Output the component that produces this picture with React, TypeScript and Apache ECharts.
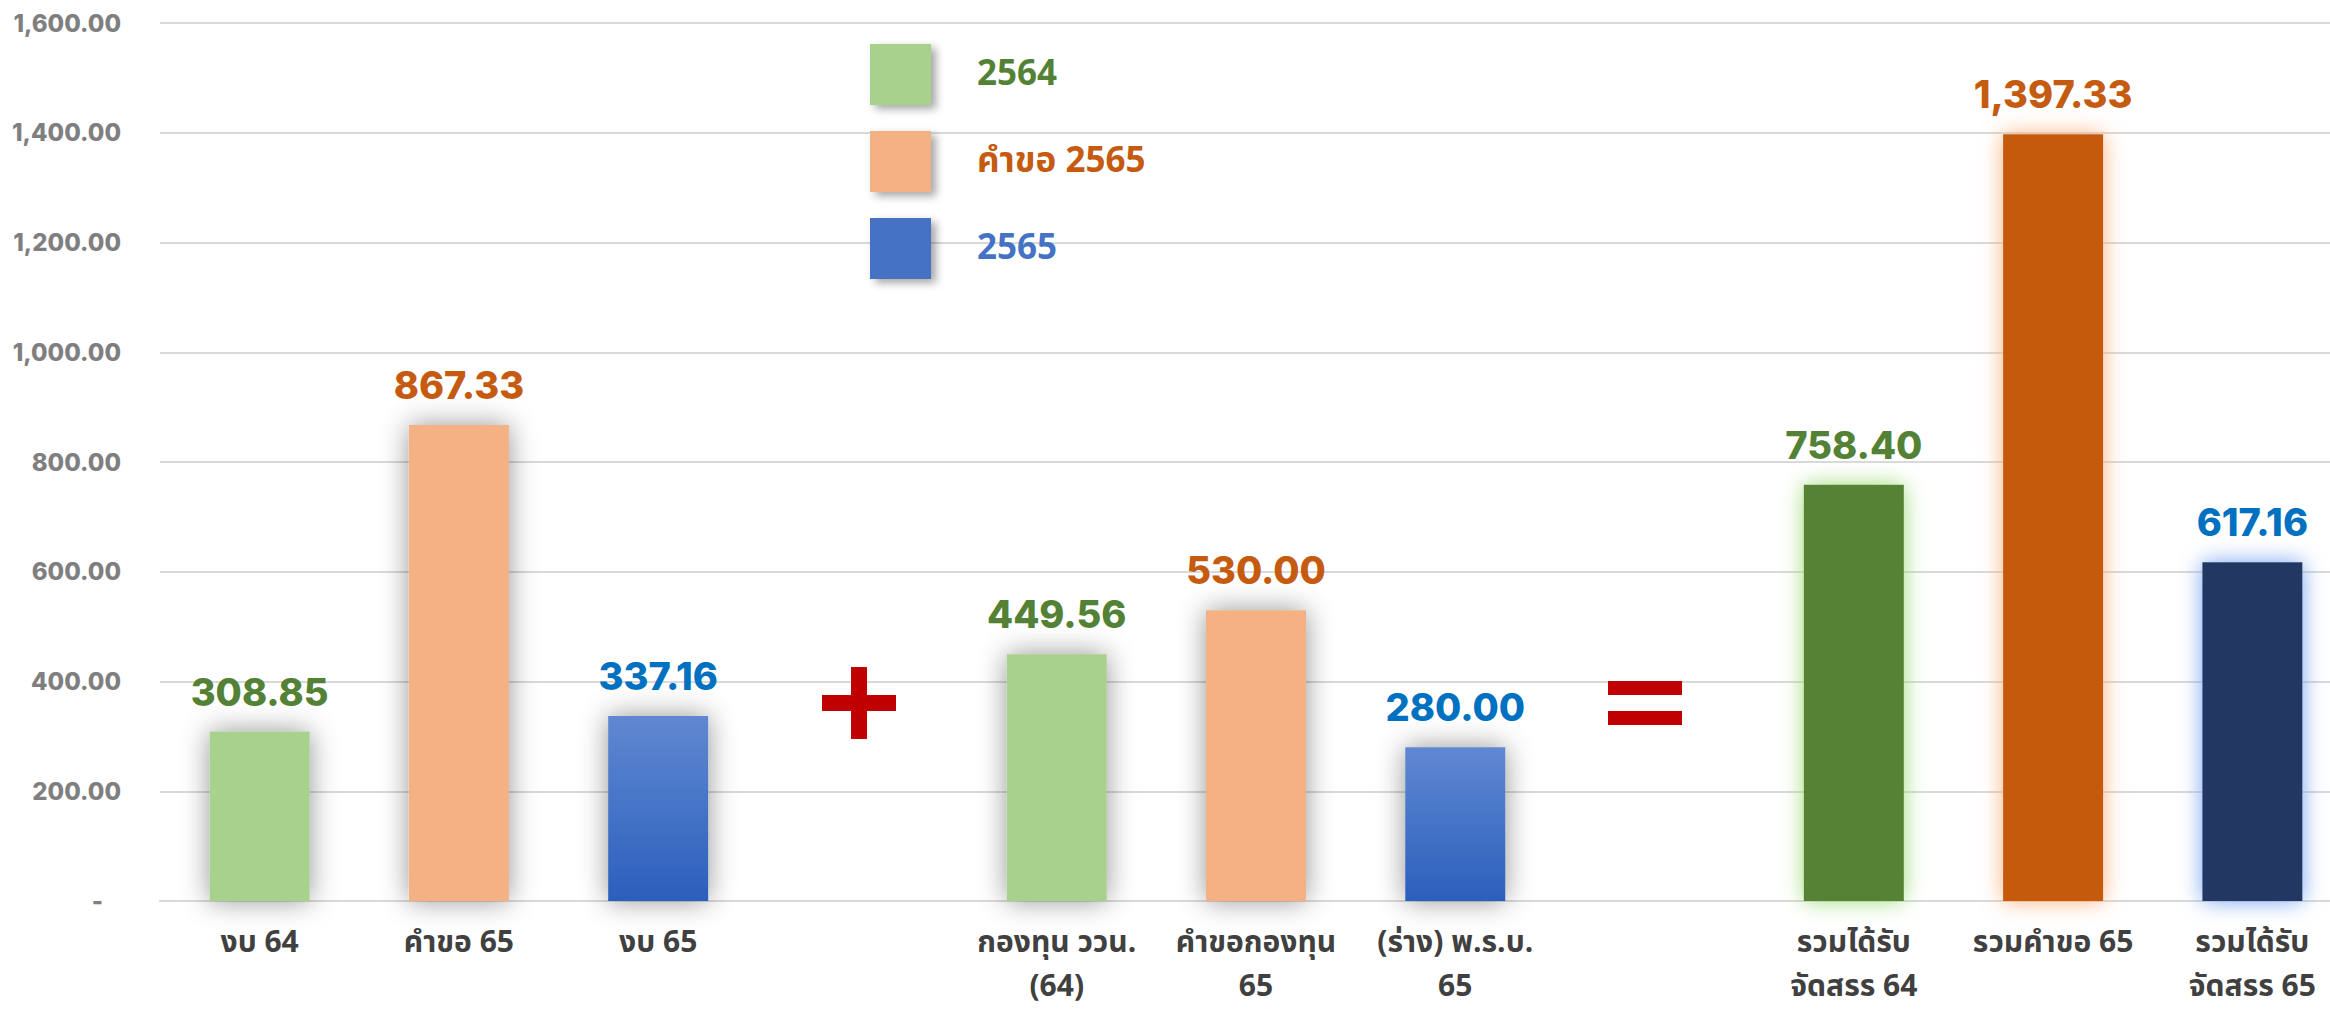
import React, { useEffect, useRef } from 'react';
import * as echarts from 'echarts';

// ---------- data ----------
const categories = [
  'งบ 64',
  'คำขอ 65',
  'งบ 65',
  '',
  'กองทุน ววน.\n(64)',
  'คำขอกองทุน\n65',
  '(ร่าง) พ.ร.บ.\n65',
  '',
  'รวมได้รับ\nจัดสรร 64',
  'รวมคำขอ 65',
  'รวมได้รับ\nจัดสรร 65',
];
const seriesNames = ['2564', 'คำขอ 2565', '2565'];
const values2564 = [308.85, null, null, null, 449.56, null, null, null, 758.4, null, null];
const valuesRequest65 = [null, 867.33, null, null, null, 530.0, null, null, null, 1397.33, null];
const values2565 = [null, null, 337.16, null, null, null, 280.0, null, null, null, 617.16];
const totalCategories = ['รวมได้รับ\nจัดสรร 64', 'รวมคำขอ 65', 'รวมได้รับ\nจัดสรร 65'];
const yMin = 0;
const yMax = 1600;
const yInterval = 200;

// ---------- styles ----------
const NUM_FONT = 'Inter, "Open Sans", sans-serif';
const THAI_FONT = '"Noto Sans Thai", "Noto Sans Thai UI", Tahoma, "Liberation Sans", sans-serif';

const fmt = (v: number) =>
  v.toLocaleString('en-US', { minimumFractionDigits: 2, maximumFractionDigits: 2 });

const blueGradient = () =>
  new echarts.graphic.LinearGradient(0, 0, 0, 1, [
    { offset: 0, color: '#6088D1' },
    { offset: 1, color: '#2B5FBC' },
  ]);

function buildSeries(
  name: string,
  values: (number | null)[],
  color: string,
  labelColor: string,
  totalStyle: any,
  normalStyle: any
) {
  return {
    name,
    type: 'bar',
    barWidth: 100,
    barGap: '-100%',
    itemStyle: { color, shadowBlur: 28, shadowColor: 'rgba(0,0,0,0.42)' },
    label: {
      show: true,
      position: 'top',
      distance: 21,
      color: labelColor,
      fontFamily: NUM_FONT,
      fontWeight: 800,
      fontSize: 38,
      formatter: (p: any) => fmt(p.value),
    },
    data: values.map((v, i) => {
      if (v == null) return '-';
      if (totalCategories.includes(categories[i])) return { value: v, itemStyle: totalStyle };
      if (normalStyle) return { value: v, itemStyle: normalStyle };
      return v;
    }),
  };
}

export default function App() {
  const ref = useRef<HTMLDivElement>(null);

  useEffect(() => {
    if (!ref.current) return;
    const chart = echarts.init(ref.current, undefined, { renderer: 'svg' });
    const red = '#C00000';
    chart.setOption({
      animation: false,
      backgroundColor: '#ffffff',
      grid: {
        left: 160,
        right: -22,
        top: 23,
        bottom: 110,
        containLabel: false,
        outerBoundsMode: 'none',
      },
      legend: {
        orient: 'vertical',
        left: 870,
        top: 44,
        padding: 0,
        itemWidth: 61,
        itemHeight: 61,
        itemGap: 26,
        icon: 'rect',
        selectedMode: false,
        itemStyle: {
          shadowBlur: 8,
          shadowOffsetX: 5,
          shadowOffsetY: 4,
          shadowColor: 'rgba(0,0,0,0.35)',
        },
        textStyle: {
          fontSize: 35,
          fontWeight: 'bold',
          fontFamily: THAI_FONT,
          padding: [0, 0, 0, 41],
        },
        data: [
          { name: seriesNames[0], itemStyle: { color: '#A9D18E' }, textStyle: { color: '#538135' } },
          { name: seriesNames[1], itemStyle: { color: '#F4B183' }, textStyle: { color: '#C55A11' } },
          { name: seriesNames[2], itemStyle: { color: '#4472C4' }, textStyle: { color: '#4472C4' } },
        ],
      },
      xAxis: {
        type: 'category',
        data: categories,
        axisTick: { show: false },
        axisLine: { lineStyle: { color: '#D9D9D9', width: 2 } },
        axisLabel: {
          interval: 0,
          color: '#404040',
          fontSize: 30,
          fontWeight: 'bold',
          fontFamily: THAI_FONT,
          lineHeight: 44,
          margin: 20,
        },
      },
      yAxis: {
        type: 'value',
        min: yMin,
        max: yMax,
        interval: yInterval,
        axisLine: { show: false },
        axisTick: { show: false },
        splitLine: { lineStyle: { color: '#D9D9D9', width: 2 } },
        axisLabel: {
          margin: 39,
          color: '#7F7F7F',
          fontSize: 24,
          fontWeight: 800,
          fontFamily: NUM_FONT,
          formatter: (v: number) => (v === 0 ? '{d|-}' : fmt(v)),
          rich: {
            d: {
              color: '#7F7F7F',
              fontSize: 24,
              fontWeight: 800,
              fontFamily: NUM_FONT,
              padding: [0, 18, 0, 0],
            },
          },
        },
      },
      series: [
        buildSeries(
          seriesNames[0],
          values2564,
          '#A9D18E',
          '#538135',
          { color: '#548235', shadowBlur: 22, shadowColor: '#9EDC78' },
          null
        ),
        buildSeries(
          seriesNames[1],
          valuesRequest65,
          '#F4B183',
          '#C55A11',
          { color: '#C55A11', shadowBlur: 22, shadowColor: '#FDB07A' },
          null
        ),
        buildSeries(
          seriesNames[2],
          values2565,
          '#4472C4',
          '#0070C0',
          { color: '#203864', shadowBlur: 22, shadowColor: '#76A2F0' },
          { color: blueGradient() }
        ),
      ],
      graphic: [
        { type: 'rect', z: 100, shape: { x: 822, y: 695, width: 74, height: 16 }, style: { fill: red } },
        { type: 'rect', z: 100, shape: { x: 851, y: 667, width: 16, height: 72 }, style: { fill: red } },
        { type: 'rect', z: 100, shape: { x: 1608, y: 681, width: 74, height: 14 }, style: { fill: red } },
        { type: 'rect', z: 100, shape: { x: 1608, y: 711, width: 74, height: 14 }, style: { fill: red } },
      ],
    });
    return () => chart.dispose();
  }, []);

  return (
    <div
      ref={ref}
      style={{ position: 'fixed', left: 0, top: 0, width: '2330px', height: '1011px', background: '#fff' }}
    />
  );
}
